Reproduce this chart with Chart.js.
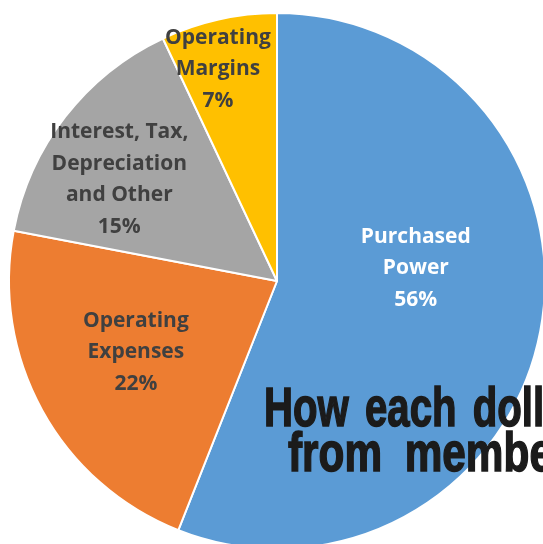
<!DOCTYPE html>
<html>
<head>
<meta charset="utf-8">
<script src="https://cdn.jsdelivr.net/npm/chart.js@4"></script>
<style>
  html, body { margin: 0; padding: 0; background: #fff; overflow: hidden; width: 543px; height: 544px; }
  #wrap { position: absolute; left: 0; top: 0; width: 554px; height: 562px; }
  .head { position: absolute; white-space: nowrap; font-family: "Liberation Sans", Arial, sans-serif;
          font-weight: bold; font-size: 55px; line-height: 55px; color: #1b1b1b; word-spacing: 7px;
          -webkit-text-stroke: 1.5px #1b1b1b; transform-origin: 0 0; }
</style>
</head>
<body>
<div id="wrap"><canvas id="pie"></canvas></div>
<div class="head" style="left:264px; top:380px; transform: scaleX(0.73);">How each dollar</div>
<div class="head" style="left:288px; top:425px; transform: scaleX(0.77); word-spacing: 14px;">from member</div>
<script>
// data
let categories = ['Purchased Power', 'Operating Expenses', 'Interest, Tax, Depreciation and Other', 'Operating Margins'];
let shares = [56, 22, 15, 7];
let labelLines = [
  ['Purchased', 'Power'],
  ['Operating', 'Expenses'],
  ['Interest, Tax,', 'Depreciation', 'and Other'],
  ['Operating', 'Margins']
];
let colors = ['#5b9bd5', '#ed7d31', '#a5a5a5', '#ffc000'];
let textColors = ['#ffffff', '#404040', '#404040', '#404040'];

// where each label sits: fraction of radius, and angle nudge (deg) from slice middle
let labelRad = [0.52, 0.59, 0.70, 0.82];
let labelNudge = [-16, 2, -5, -3];

let sliceLabels = {
  id: 'sliceLabels',
  afterDatasetsDraw(chart) {
    let c = chart.ctx;
    let meta = chart.getDatasetMeta(0);
    c.save();
    c.font = 'bold 21px "Open Sans", Lato, sans-serif';
    c.textAlign = 'center';
    c.textBaseline = 'middle';
    meta.data.forEach((arc, i) => {
      let p = arc.getProps(['x', 'y', 'startAngle', 'endAngle', 'outerRadius']);
      let mid = (p.startAngle + p.endAngle) / 2 + labelNudge[i] * Math.PI / 180;
      let r = p.outerRadius * labelRad[i];
      let cx = p.x + Math.cos(mid) * r;
      let cy = p.y + Math.sin(mid) * r;
      let lines = labelLines[i].concat([shares[i] + '%']);
      let lh = 31.5;
      c.fillStyle = textColors[i];
      lines.forEach((t, k) => {
        c.fillText(t, cx, cy + (k - (lines.length - 1) / 2) * lh);
      });
    });
    c.restore();
  }
};

new Chart(document.getElementById('pie').getContext('2d'), {
  type: 'pie',
  data: {
    labels: categories,
    datasets: [{
      data: shares,
      backgroundColor: colors,
      borderColor: '#ffffff',
      borderWidth: 2
    }]
  },
  options: {
    responsive: true,
    maintainAspectRatio: false,
    animation: false,
    radius: 268,
    layout: { padding: 0 },
    plugins: {
      legend: { display: false },
      tooltip: { enabled: false }
    }
  },
  plugins: [sliceLabels]
});
</script>
</body>
</html>
